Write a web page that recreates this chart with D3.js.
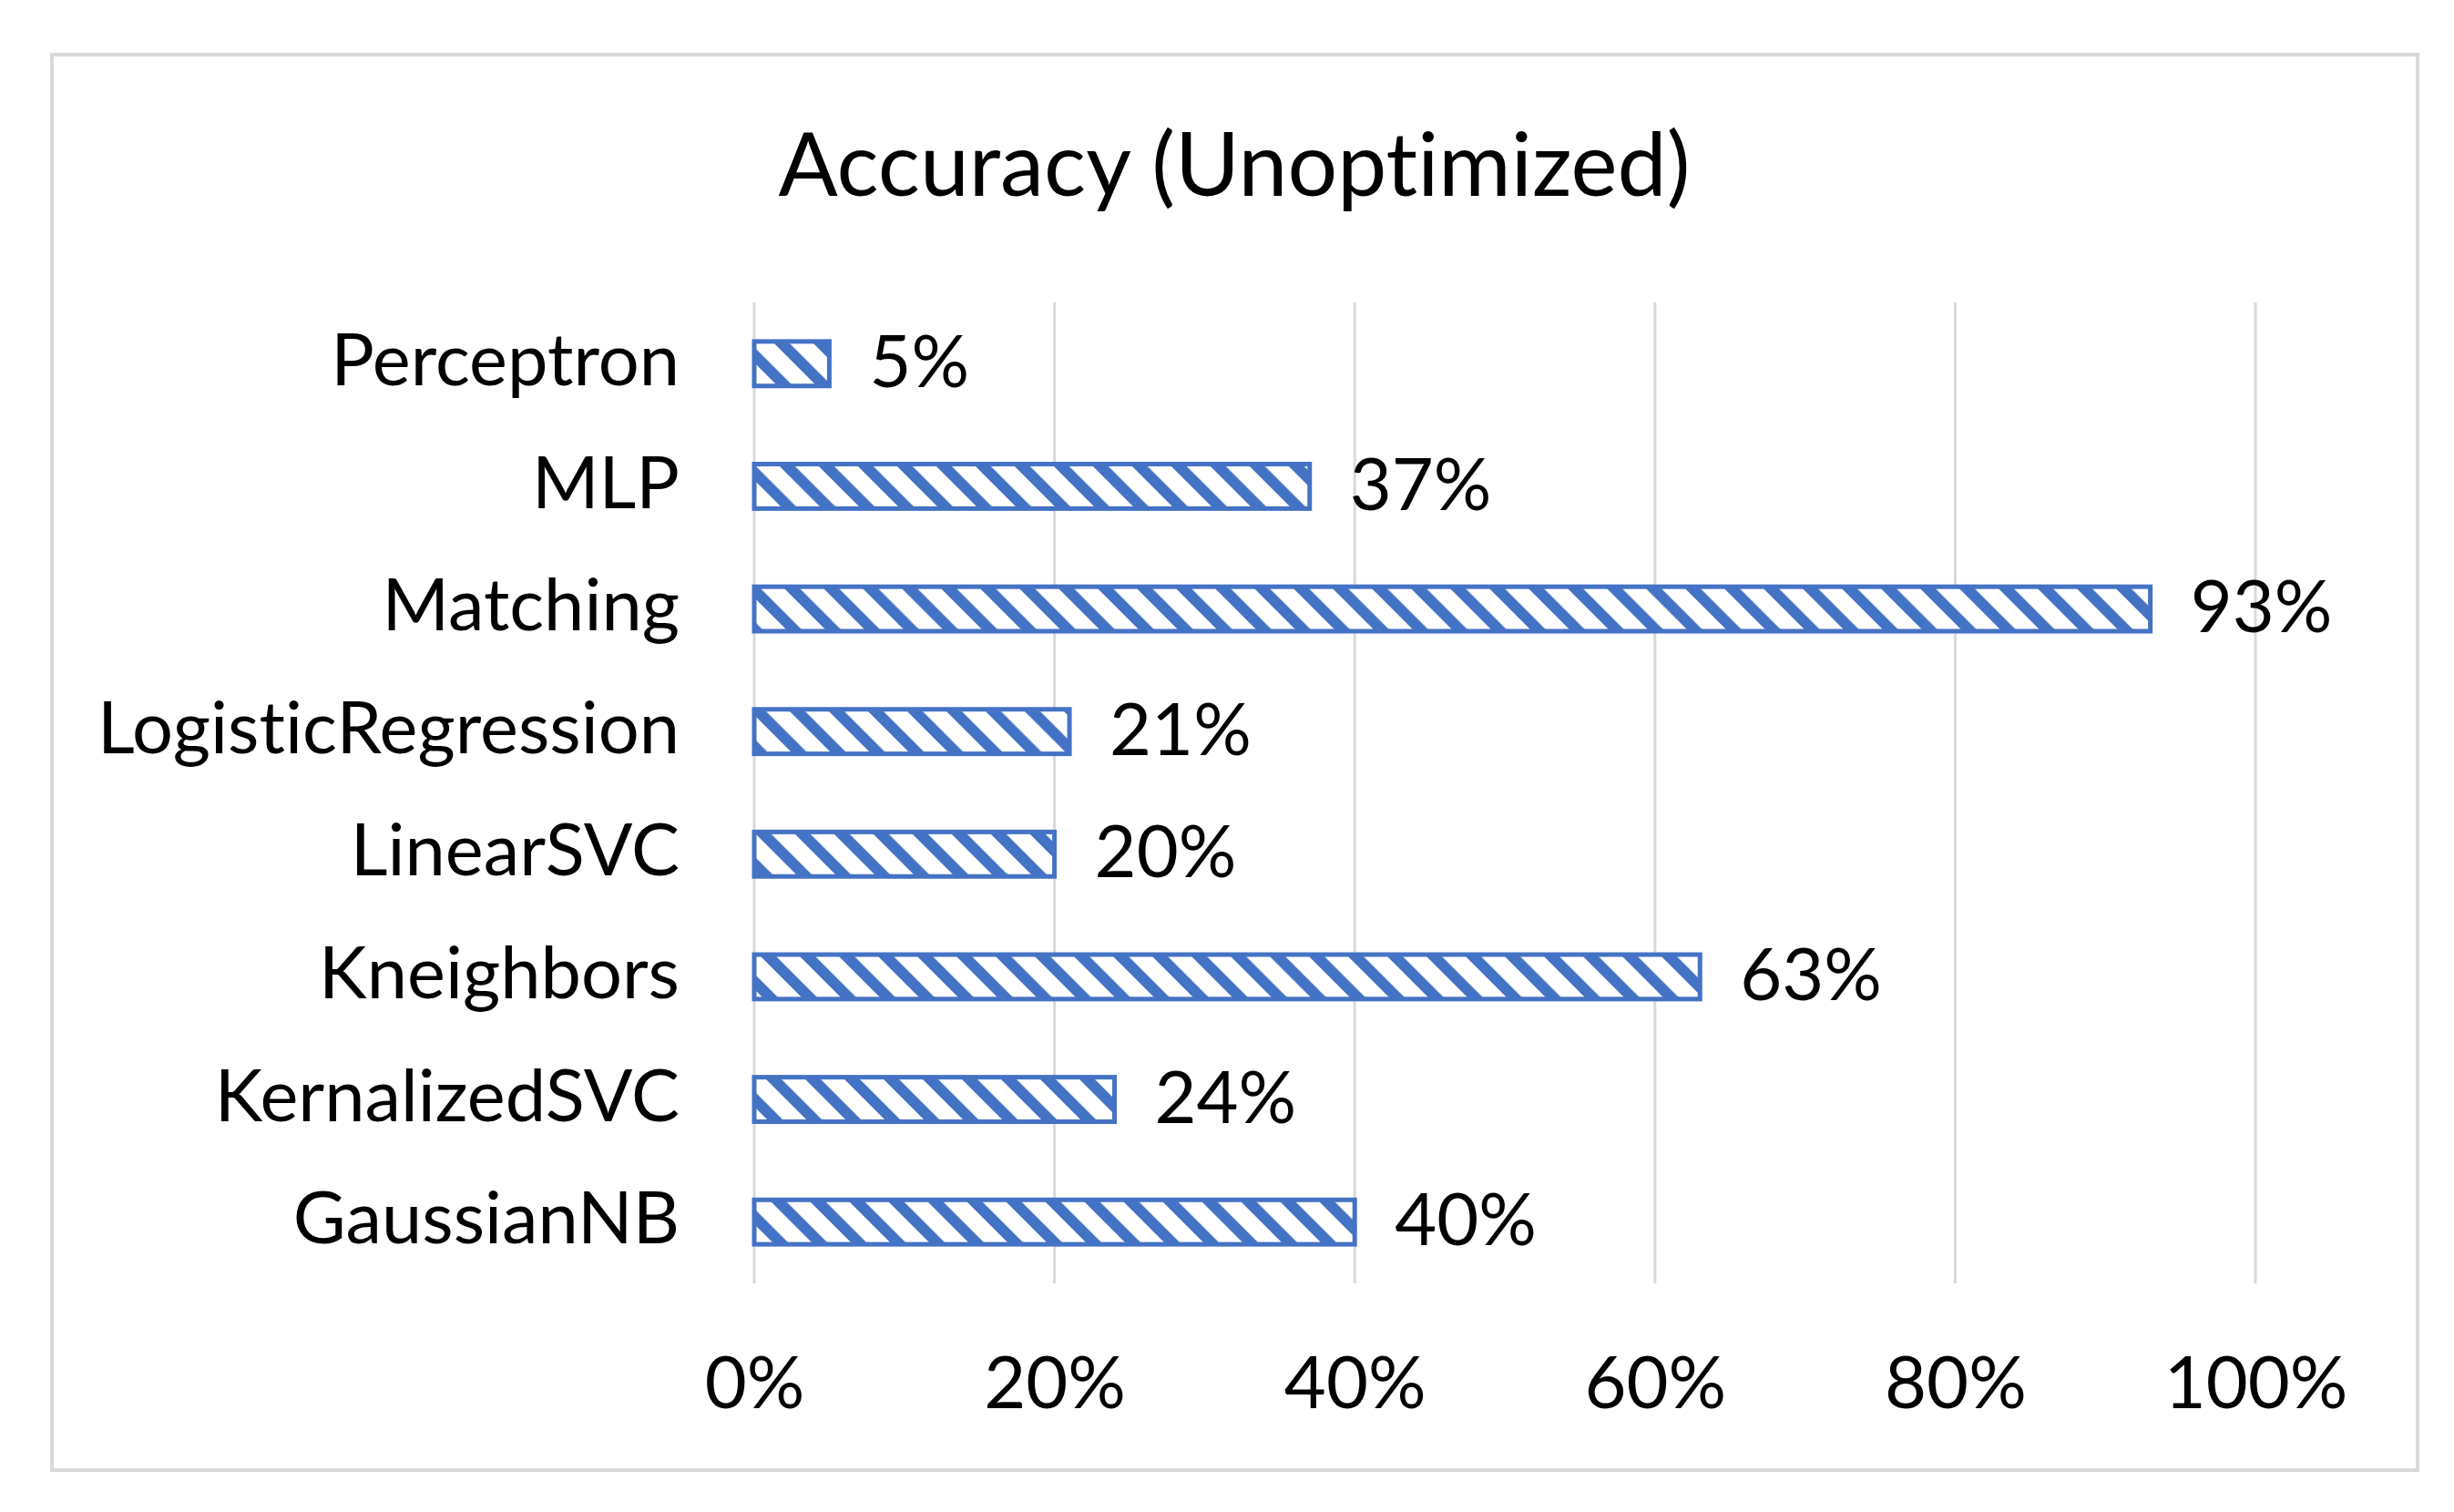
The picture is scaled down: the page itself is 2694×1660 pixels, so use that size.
<!DOCTYPE html>
<html>
<head>
<meta charset="utf-8">
<script src="https://cdn.jsdelivr.net/npm/d3@7"></script>
<style>
  html, body { margin: 0; padding: 0; background: #fff; }
  svg { display: block; }
  text { font-variant-ligatures: none; font-feature-settings: "liga" 0, "clig" 0; }
</style>
</head>
<body>
<svg id="chart" width="2694" height="1660"></svg>
<script>
const categories = ["Perceptron", "MLP", "Matching", "LogisticRegression", "LinearSVC", "Kneighbors", "KernalizedSVC", "GaussianNB"];
const accuracy = [5, 37, 93, 21, 20, 63, 24, 40];
const tickValues = [0, 20, 40, 60, 80, 100];
const titleText = "Accuracy (Unoptimized)";

const W = 2694, H = 1660;
const FONT = "Lato, 'Open Sans', sans-serif";
const BLUE = "#4472C4";
const svg = d3.select("#chart");

// background & frame
svg.append("rect").attr("width", W).attr("height", H).attr("fill", "#fff");
svg.append("rect").attr("x", 57).attr("y", 60).attr("width", 2597).attr("height", 1554)
  .attr("fill", "#fff").attr("stroke", "#d9d9d9").attr("stroke-width", 4);

// pattern
const defs = svg.append("defs");
const pat = defs.append("pattern").attr("id", "hatch")
  .attr("patternUnits", "userSpaceOnUse")
  .attr("width", 30.4).attr("height", 30.4)
  .attr("patternTransform", "rotate(-45)");
pat.append("rect").attr("width", 30.4).attr("height", 30.4).attr("fill", "#fff");
pat.append("rect").attr("x", 0).attr("y", 0).attr("width", 12).attr("height", 30.4).attr("fill", BLUE);

// font fitting
function fitSize(text, targetWidth, base) {
  const t = svg.append("text").attr("font-family", FONT).attr("font-size", base).text(text);
  const w = t.node().getComputedTextLength();
  t.remove();
  return base * targetWidth / w;
}
const labelSize = fitSize("LogisticRegression", 639, 86);
const titleSize = fitSize(titleText, 1001, 107);

const x = d3.scaleLinear().domain([0, 100]).range([828, 2476]);
const y = d3.scaleBand().domain(categories).range([332, 1409]).paddingInner(0.6).paddingOuter(0.3);

// gridlines
svg.append("g").selectAll("line").data(tickValues).join("line")
  .attr("x1", d => x(d)).attr("x2", d => x(d))
  .attr("y1", 332).attr("y2", 1409)
  .attr("stroke", "#d9d9d9").attr("stroke-width", 3);

// bars
svg.append("g").selectAll("rect").data(categories).join("rect")
  .attr("x", x(0))
  .attr("y", d => y(d) + 2.5)
  .attr("width", (d, i) => x(accuracy[i]) - x(0))
  .attr("height", y.bandwidth() - 5)
  .attr("fill", "url(#hatch)")
  .attr("stroke", BLUE).attr("stroke-width", 5);

// data labels
svg.append("g").selectAll("text").data(categories).join("text")
  .attr("x", (d, i) => x(accuracy[i]) + 44)
  .attr("y", d => y(d) + y.bandwidth() / 2 + labelSize * 0.36 - 3)
  .attr("font-family", FONT).attr("font-size", labelSize).attr("fill", "#000")
  .text((d, i) => accuracy[i] + "%");

// category labels
const yAxis = d3.axisLeft(y).tickSize(0).tickPadding(0);
const gy = svg.append("g").attr("transform", "translate(746,0)").call(yAxis);
gy.select(".domain").remove();
gy.selectAll("text").attr("font-family", FONT).attr("font-size", labelSize)
  .attr("fill", "#000").attr("dy", null).attr("x", 0)
  .attr("y", labelSize * 0.36 - 5).attr("text-anchor", "end");

// x axis
const xAxis = d3.axisBottom(x).tickValues(tickValues).tickFormat(d => d + "%").tickSize(0).tickPadding(0);
const gx = svg.append("g").attr("transform", "translate(0,1546)").call(xAxis);
gx.select(".domain").remove();
gx.selectAll("text").attr("font-family", FONT).attr("font-size", labelSize)
  .attr("fill", "#000").attr("dy", null).attr("y", 0);

// title
svg.append("text").attr("x", 1355).attr("y", 215)
  .attr("text-anchor", "middle").attr("font-family", FONT).attr("font-size", titleSize)
  .attr("fill", "#000").text(titleText);
</script>
</body>
</html>
